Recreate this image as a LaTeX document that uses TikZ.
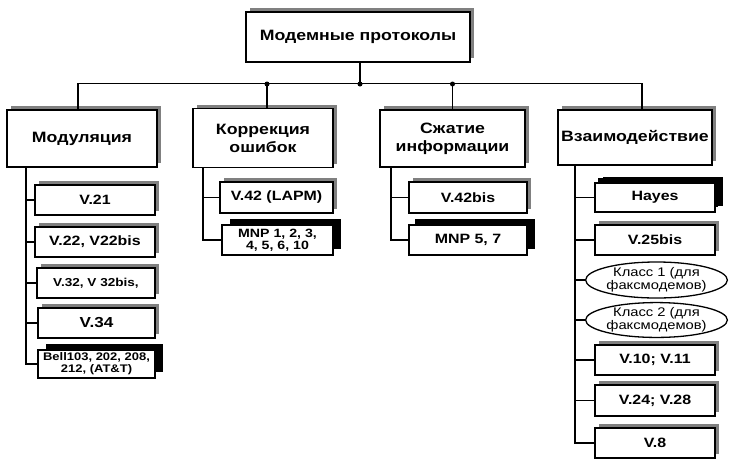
\documentclass[tikz,border=0pt]{standalone}
\usepackage{fontspec}
\setmainfont{Liberation Sans}[FakeStretch=1.18]
\usetikzlibrary{shapes.geometric,shadows}

\begin{document}
\begin{tikzpicture}[x=1pt,y=-1pt,
    sz/.style 2 args={minimum width=#1,minimum height=#2},
    box/.style={draw,line width=1.5pt,fill=white,align=center,inner sep=1pt,font=\bfseries\fontsize{13.5}{14}\selectfont},
    gbox/.style={box,general shadow={fill=black!50,shadow xshift=4pt,shadow yshift=4pt}},
    bbox/.style={box,general shadow={fill=black,shadow xshift=8pt,shadow yshift=6pt}},
    head/.style={gbox,font=\bfseries\fontsize{15}{18}\selectfont},
    oval/.style={ellipse,draw,line width=1.3pt,fill=white,inner sep=0pt,align=center,font=\fontsize{12.5}{13}\selectfont},
    link/.style={line width=1.2pt}]
    \useasboundingbox (0,0) rectangle (747,467);
    \node[head,sz={224}{50}] (top) at (358,37) {Модемные протоколы};
    \node[head,sz={150}{57}] (mod) at (82,138.5) {Модуляция};
    \node[head,sz={140}{59}] (kor) at (263,138) {Коррекция\\ошибок};
    \node[head,sz={145}{57}] (szh) at (452.5,138.5) {Сжатие\\информации};
    \node[head,sz={154}{55},inner sep=0pt] (vz) at (635,137.5) {Взаимодействие};
    \node[gbox,sz={120}{30}] (v21) at (95,200) {V.21};
    \node[gbox,sz={120}{30}] (v22) at (95,242) {V.22, V22bis};
    \node[gbox,sz={118}{30},font=\bfseries\fontsize{11.5}{13}\selectfont] (v32) at (96,283) {V.32, V 32bis,};
    \node[gbox,sz={117}{30},font=\bfseries\fontsize{14.5}{15}\selectfont] (v34) at (96.5,323) {V.34};
    \node[bbox,sz={117}{28},font=\bfseries\fontsize{11}{12}\selectfont] (bell) at (96.5,364) {Bell103, 202, 208,\\212, (AT\&T)};
    \node[gbox,sz={113}{31}] (v42) at (276.5,197.5) {V.42 (LAPM)};
    \node[bbox,sz={111}{30},font=\bfseries\fontsize{12}{11.5}\selectfont] (mnp) at (277.5,240) {MNP 1, 2, 3,\\4, 5, 6, 10};
    \node[gbox,sz={118}{31}] (v42b) at (468,197.5) {V.42bis};
    \node[bbox,sz={118}{30},general shadow={fill=black,shadow xshift=6pt,shadow yshift=6pt}] (mnp57) at (468,240) {MNP 5, 7};
    \node[bbox,sz={120}{29},general shadow={fill=black,shadow xshift=3pt,shadow yshift=5pt}] (hay) at (655,197.5) {Hayes};
    \node[gbox,sz={120}{30}] (v25) at (655,240) {V.25bis};
    \node[oval,sz={121}{36}] (k1) at (656.5,280) {Класс 1 (для\\факсмодемов)};
    \node[oval,sz={121}{30}] (k2) at (656.5,320) {Класс 2 (для\\факсмодемов)};
    \node[gbox,sz={120}{30}] (v10) at (655,360) {V.10; V.11};
    \node[gbox,sz={120}{31}] (v24) at (655,400.5) {V.24; V.28};
    \node[gbox,sz={120}{30}] (v8) at (655,443) {V.8};
    \coordinate (bus) at (0,84);
    \coordinate (mt) at (26,167);
    \coordinate (kt) at (203,167);
    \coordinate (st) at (391,167);
    \coordinate (vt) at (575,165);
    \draw[link] ([xshift=2pt]top.south) -- ([xshift=2pt]top.south |- bus);
    \draw[link] ([xshift=-4pt]mod.north) -- ++(0,-26) -| ([xshift=7pt]vz.north);
    \draw[link] ([xshift=4pt]kor.north) -- ([xshift=4pt]kor.north |- bus);
    \draw[link] (szh.north) -- (szh.north |- bus);
    \fill ([xshift=4pt]kor.north |- bus) circle (2.5pt);
    \fill ([xshift=2pt]top.south |- bus) circle (2.5pt);
    \fill (szh.north |- bus) circle (2.5pt);
    \foreach \n in {v21,v22,v32,v34,bell} \draw[link] (mt) |- (\n.west);
    \foreach \n in {v42,mnp} \draw[link] (kt) |- (\n.west);
    \foreach \n in {v42b,mnp57} \draw[link] (st) |- (\n.west);
    \foreach \n in {hay,v25,k1,k2,v10,v24,v8} \draw[link] (vt) |- (\n.west);
\end{tikzpicture}
\end{document}
